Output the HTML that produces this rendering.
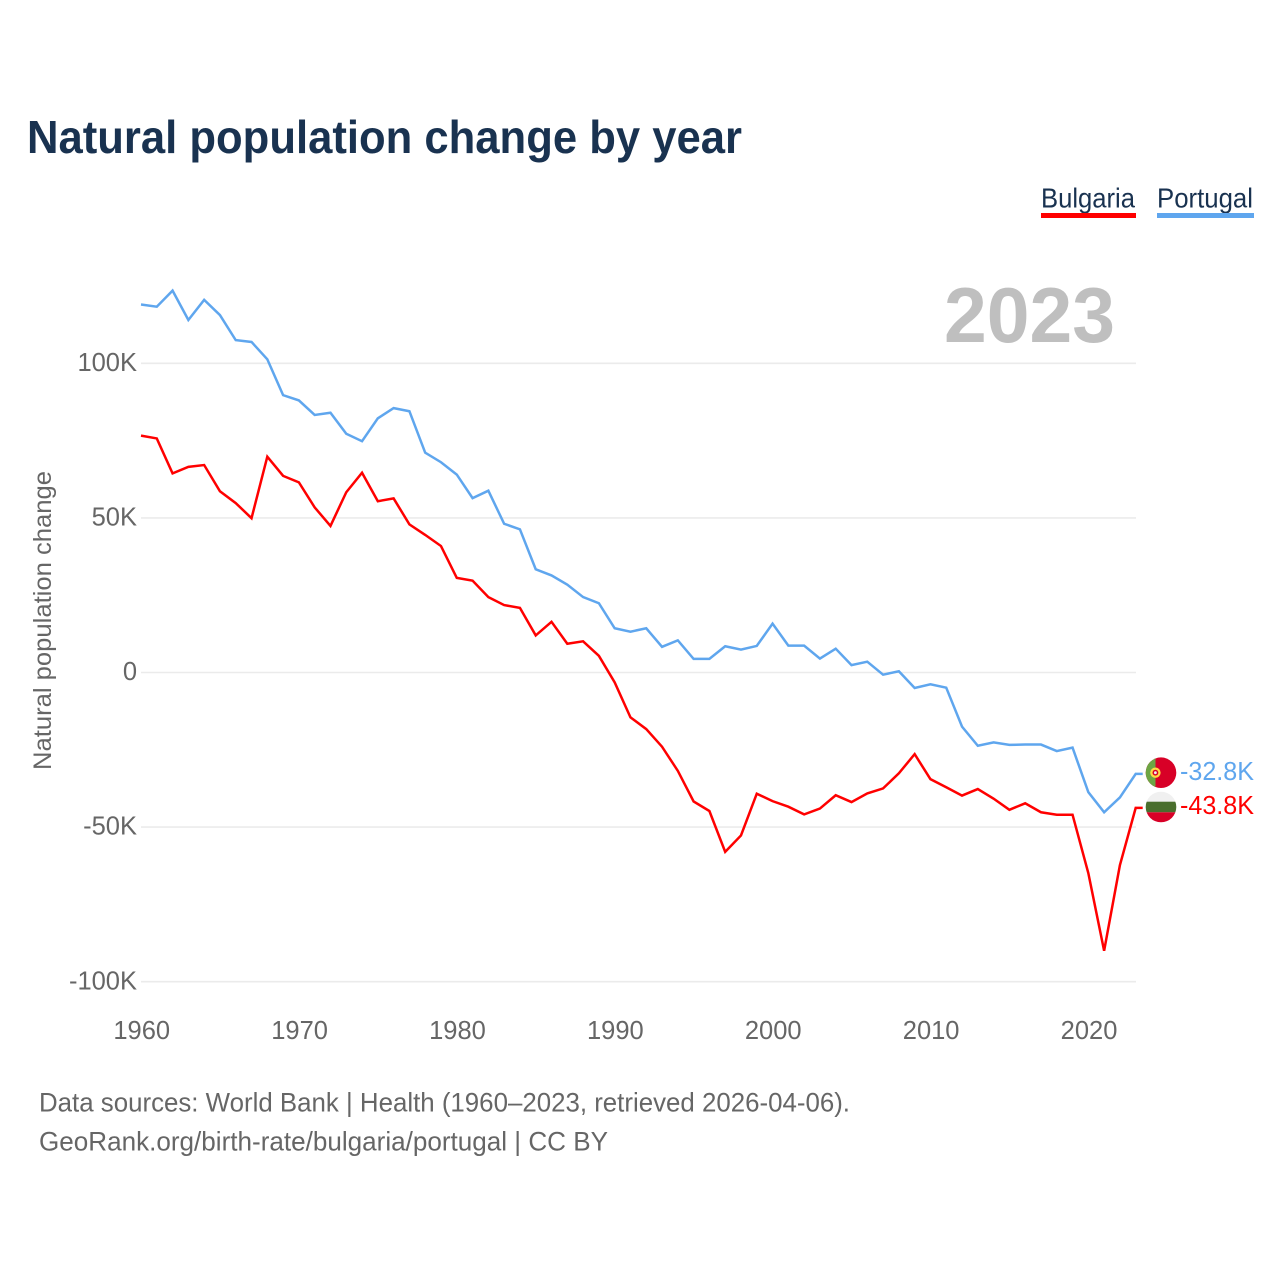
<!DOCTYPE html>
<html lang="en">
<head>
<meta charset="utf-8">
<title>Natural population change by year</title>
<style>
html,body{margin:0;padding:0;background:#fff;width:1280px;height:1280px;overflow:hidden}
svg{display:block}
text{font-family:"Liberation Sans",sans-serif}
</style>
</head>
<body>
<svg id="chart" xmlns="http://www.w3.org/2000/svg" width="1280" height="1280" viewBox="0 0 1280 1280">
  <rect width="1280" height="1280" fill="#fff"/>
  <text x="27" y="153" font-size="46.5" font-weight="700" fill="#193250" textLength="715" lengthAdjust="spacingAndGlyphs">Natural population change by year</text>

  <g>
    <text x="1041" y="207.5" font-size="27.5" fill="#193250" textLength="94" lengthAdjust="spacingAndGlyphs">Bulgaria</text>
    <rect x="1041" y="213" width="95" height="5" fill="#ff0000"/>
  </g>
  <g>
    <text x="1157" y="207.5" font-size="27.5" fill="#193250" textLength="96" lengthAdjust="spacingAndGlyphs">Portugal</text>
    <rect x="1157" y="213" width="97" height="5" fill="#5fa6ee"/>
  </g>

  <text x="944" y="342" font-size="78" font-weight="700" fill="#bfbfbf" textLength="171" lengthAdjust="spacingAndGlyphs">2023</text>

  <text transform="translate(51 620.5) rotate(-90)" text-anchor="middle" font-size="25" fill="#666" textLength="299" lengthAdjust="spacingAndGlyphs">Natural population change</text>

  <g id="grid"></g>
  <g id="yticks"></g>
  <g id="xticks"></g>
  <g id="series"></g>
  <g id="endlabels"></g>

  <defs>
    <clipPath id="clip-pt"><circle cx="1161" cy="772.7" r="15.3"/></clipPath>
    <clipPath id="clip-bg"><circle cx="1161" cy="807" r="15.3"/></clipPath>
  </defs>
  <g clip-path="url(#clip-pt)">
    <rect x="1145" y="757" width="32" height="32" fill="#d80027"/>
    <rect x="1145" y="757" width="10.5" height="32" fill="#6da544"/>
    <circle cx="1155.4" cy="772.7" r="5.2" fill="#ffda44"/>
    <circle cx="1155.4" cy="772.7" r="2.9" fill="#d80027"/>
    <circle cx="1155.4" cy="772.7" r="1.4" fill="#f0f0f0"/>
  </g>
  <g clip-path="url(#clip-bg)">
    <rect x="1145" y="791" width="32" height="11" fill="#f0f0f0"/>
    <rect x="1145" y="801.7" width="32" height="10.6" fill="#496e2d"/>
    <rect x="1145" y="812.3" width="32" height="11" fill="#d80027"/>
  </g>

  <text x="39" y="1111.5" font-size="27" fill="#666" textLength="811" lengthAdjust="spacingAndGlyphs">Data sources: World Bank | Health (1960–2023, retrieved 2026-04-06).</text>
  <text x="39" y="1150.5" font-size="27" fill="#666" textLength="569" lengthAdjust="spacingAndGlyphs">GeoRank.org/birth-rate/bulgaria/portugal | CC BY</text>
</svg>
<script>
const firstYear = 1960;
const lastYear = 2023;
const yTickValues = [100, 50, 0, -50, -100];
const yTickLabels = ["100K", "50K", "0", "-50K", "-100K"];
const xTickYears = [1960, 1970, 1980, 1990, 2000, 2010, 2020];
const seriesNames = ["Portugal", "Bulgaria"];
const portugalValues = [119, 118.3, 123.5, 114, 120.5, 115.6, 107.5, 106.9, 101.3, 89.7,
  88, 83.3, 84, 77.2, 74.8, 82.2, 85.5, 84.5, 71.1, 68,
  64, 56.4, 58.8, 48.1, 46.3, 33.4, 31.4, 28.4, 24.4, 22.4,
  14.3, 13.2, 14.3, 8.3, 10.4, 4.4, 4.4, 8.5, 7.4, 8.6,
  15.8, 8.7, 8.7, 4.5, 7.7, 2.4, 3.5, -0.7, 0.4, -5,
  -3.8, -4.9, -17.5, -23.7, -22.6, -23.4, -23.3, -23.3, -25.4, -24.3,
  -38.7, -45.2, -40.4, -32.8];
const bulgariaValues = [76.6, 75.7, 64.4, 66.5, 67.1, 58.6, 54.8, 49.9, 69.8, 63.6,
  61.5, 53.4, 47.4, 58.3, 64.6, 55.4, 56.3, 47.9, 44.5, 40.9,
  30.6, 29.7, 24.4, 21.8, 20.9, 12, 16.4, 9.3, 10.1, 5.4,
  -3.2, -14.5, -18.3, -24, -31.8, -41.7, -44.8, -58, -52.7, -39.2,
  -41.6, -43.4, -45.9, -44, -39.7, -41.9, -39.1, -37.5, -32.6, -26.4,
  -34.5, -37.1, -39.8, -37.7, -40.8, -44.4, -42.3, -45.2, -46, -46,
  -64.9, -90, -62.3, -43.8];

const NS = 'http://www.w3.org/2000/svg';
const xScale = function (year) { return 141 + (year - 1960) * (1135.7 - 141) / 63; };
const yScale = function (v) { return 672.5 - v * 3.092; };
const make = function (tag, parent) {
  const el = document.createElementNS(NS, tag);
  parent.appendChild(el);
  return el;
};
const set = function (el, attrs) {
  Object.keys(attrs).forEach(function (k) { el.setAttribute(k, attrs[k]); });
};
const fmtEnd = function (v) { return v.toFixed(1) + 'K'; };

const grid = document.getElementById('grid');
const yticks = document.getElementById('yticks');
yTickValues.forEach(function (v, i) {
  const line = make('line', grid);
  
  
  set(line, {x1: 141, x2: 1136, y1: yScale(v), y2: yScale(v), stroke: '#ebebeb', 'stroke-width': 1.6});
  const t = make('text', yticks);
  
  
  set(t, {x: 137, y: yScale(v) + 7.6, 'text-anchor': 'end', 'font-size': 25.5, fill: '#666'});
  t.textContent = yTickLabels[i];
});

const xticks = document.getElementById('xticks');
xTickYears.forEach(function (yr) {
  const t = make('text', xticks);
  
  
  set(t, {x: xScale(yr) + 0.7, y: 1039, 'text-anchor': 'middle', 'font-size': 25.5, fill: '#666'});
  t.textContent = String(yr);
});

const seriesGroup = document.getElementById('series');
const endLabels = document.getElementById('endlabels');
const drawSeries = function (values, color, key) {
  let pts = values.map(function (v, i) {
    return xScale(firstYear + i).toFixed(2) + ',' + yScale(v).toFixed(2);
  });
  const endY = yScale(values[values.length - 1]);
  pts.push((xScale(lastYear) + 7).toFixed(2) + ',' + endY.toFixed(2));
  const line = make('polyline', seriesGroup);
  
  
  line.setAttribute('data-series', key);
  set(line, {points: pts.join(' '), fill: 'none', stroke: color, 'stroke-width': 2.5, 'stroke-linejoin': 'miter'});
  const lab = make('text', endLabels);
  
  
  set(lab, {x: 1180, y: endY + 6, 'font-size': 26, fill: color, textLength: 74, lengthAdjust: 'spacingAndGlyphs'});
  lab.textContent = fmtEnd(values[values.length - 1]);
};
drawSeries(portugalValues, '#5fa6ee', seriesNames[0]);
drawSeries(bulgariaValues, '#ff0000', seriesNames[1]);
</script>
</body>
</html>
